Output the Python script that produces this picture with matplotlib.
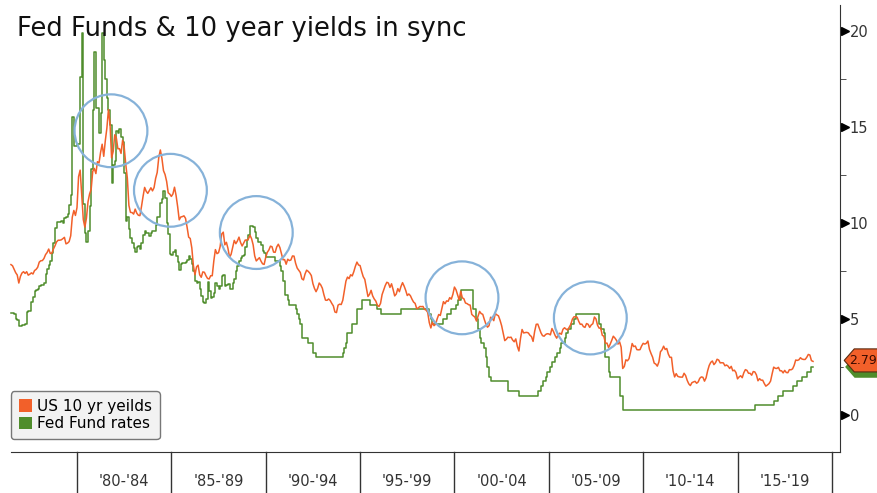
import matplotlib
matplotlib.use('Agg')
import matplotlib.pyplot as plt
import matplotlib.transforms as mtransforms
from matplotlib.patches import Patch, Polygon
from matplotlib.ticker import MultipleLocator
import numpy as np

# monthly values, first month = Jul 1976
start_year = 1976.5

ten_year = [
    7.83, 7.77, 7.59, 7.41, 7.29, 6.87,
    7.21, 7.39, 7.46, 7.37, 7.46, 7.28, 7.33, 7.40, 7.34, 7.52, 7.58, 7.69,
    7.96, 8.03, 8.04, 8.15, 8.35, 8.46, 8.64, 8.41, 8.42, 8.64, 8.81, 9.01,
    9.10, 9.10, 9.12, 9.18, 9.25, 8.91, 8.95, 9.03, 9.33, 10.30, 10.65, 10.39,
    10.80, 12.41, 12.75, 11.47, 10.18, 9.78, 10.25, 11.10, 11.51, 11.75, 12.68, 12.84,
    12.57, 13.19, 13.12, 13.68, 14.10, 13.47, 14.28, 14.94, 15.90, 15.15, 13.39, 13.72,
    14.59, 14.43, 13.86, 13.87, 13.62, 14.30, 13.95, 13.06, 12.34, 10.91, 10.55, 10.54,
    10.46, 10.72, 10.51, 10.40, 10.38, 10.85, 11.38, 11.85, 11.65, 11.54, 11.69, 11.83,
    11.67, 11.84, 12.32, 12.63, 13.41, 13.80, 13.36, 12.72, 12.52, 12.16, 11.57, 11.50,
    11.38, 11.51, 11.86, 11.43, 10.85, 10.16, 10.31, 10.33, 10.37, 10.24, 9.78, 9.26,
    9.19, 8.70, 7.78, 7.30, 7.71, 7.80, 7.30, 7.17, 7.45, 7.43, 7.25, 7.11,
    7.08, 7.25, 7.25, 8.02, 8.61, 8.40, 8.45, 8.76, 9.42, 9.52, 8.86, 8.99,
    8.67, 8.21, 8.37, 8.72, 9.09, 8.92, 9.06, 9.26, 8.98, 8.80, 8.96, 9.11,
    9.09, 9.17, 9.36, 9.18, 8.86, 8.28, 8.02, 8.11, 8.19, 8.01, 7.87, 7.84,
    8.21, 8.47, 8.59, 8.79, 8.76, 8.48, 8.47, 8.75, 8.89, 8.72, 8.39, 8.08,
    8.09, 7.85, 8.11, 8.04, 8.07, 8.28, 8.27, 7.90, 7.65, 7.53, 7.42, 7.09,
    7.03, 7.34, 7.54, 7.48, 7.39, 7.26, 6.84, 6.59, 6.42, 6.59, 6.87, 6.77,
    6.60, 6.26, 5.98, 5.97, 6.04, 5.96, 5.81, 5.68, 5.36, 5.33, 5.72, 5.77,
    5.75, 5.97, 6.48, 6.97, 7.18, 7.10, 7.30, 7.24, 7.46, 7.74, 7.96, 7.81,
    7.78, 7.47, 7.20, 7.06, 6.63, 6.17, 6.28, 6.49, 6.20, 6.04, 5.93, 5.71,
    5.65, 5.81, 6.27, 6.51, 6.74, 6.91, 6.87, 6.64, 6.83, 6.53, 6.20, 6.30,
    6.58, 6.42, 6.69, 6.89, 6.71, 6.49, 6.22, 6.30, 6.21, 6.03, 5.88, 5.81,
    5.54, 5.57, 5.65, 5.64, 5.65, 5.50, 5.46, 5.34, 4.81, 4.53, 4.83, 4.65,
    4.72, 5.00, 5.23, 5.18, 5.54, 5.90, 5.79, 5.94, 5.92, 6.11, 6.03, 6.28,
    6.66, 6.52, 6.26, 5.99, 6.44, 6.10, 6.05, 5.83, 5.80, 5.74, 5.72, 5.24,
    5.16, 5.10, 4.89, 5.14, 5.39, 5.28, 5.24, 4.97, 4.73, 4.57, 4.65, 5.09,
    5.04, 4.91, 5.28, 5.21, 5.16, 4.93, 4.65, 4.26, 3.87, 3.94, 4.05, 4.03,
    4.05, 3.90, 3.81, 3.96, 3.57, 3.33, 3.98, 4.45, 4.27, 4.29, 4.30, 4.27,
    4.15, 4.08, 3.83, 4.35, 4.72, 4.73, 4.50, 4.28, 4.13, 4.10, 4.19, 4.23,
    4.22, 4.17, 4.50, 4.34, 4.14, 4.00, 4.18, 4.26, 4.20, 4.46, 4.54, 4.47,
    4.42, 4.57, 4.72, 4.99, 5.11, 5.11, 5.09, 4.88, 4.72, 4.73, 4.60, 4.56,
    4.76, 4.72, 4.56, 4.69, 4.75, 5.10, 5.00, 4.67, 4.52, 4.53, 4.15, 4.10,
    3.74, 3.74, 3.51, 3.68, 3.88, 4.10, 4.01, 3.89, 3.69, 3.81, 3.53, 2.42,
    2.52, 2.87, 2.82, 2.93, 3.29, 3.72, 3.56, 3.59, 3.40, 3.39, 3.40, 3.59,
    3.73, 3.69, 3.73, 3.85, 3.42, 3.20, 3.01, 2.70, 2.65, 2.54, 2.76, 3.29,
    3.39, 3.58, 3.41, 3.46, 3.17, 3.00, 3.00, 2.30, 1.98, 2.15, 2.01, 1.98,
    1.97, 1.97, 2.17, 2.05, 1.80, 1.62, 1.53, 1.68, 1.72, 1.75, 1.65, 1.72,
    1.91, 1.98, 1.96, 1.76, 1.93, 2.30, 2.58, 2.74, 2.81, 2.62, 2.72, 2.90,
    2.86, 2.71, 2.72, 2.71, 2.56, 2.60, 2.54, 2.42, 2.53, 2.30, 2.33, 2.21,
    1.88, 1.98, 2.04, 1.94, 2.20, 2.36, 2.32, 2.17, 2.17, 2.07, 2.26, 2.24,
    2.09, 1.78, 1.89, 1.81, 1.81, 1.64, 1.50, 1.56, 1.63, 1.76, 2.14, 2.49,
    2.43, 2.42, 2.48, 2.30, 2.30, 2.19, 2.32, 2.21, 2.20, 2.36, 2.35, 2.40,
    2.58, 2.86, 2.84, 2.87, 2.98, 2.91, 2.89, 2.89, 3.00, 3.15, 3.12, 2.83,
    2.79,
]

fed_funds = [
    5.31, 5.29, 5.25, 5.02, 4.95, 4.65,
    4.61, 4.68, 4.69, 4.73, 5.35, 5.39, 5.42, 5.90, 6.14, 6.47, 6.51, 6.56,
    6.70, 6.78, 6.79, 6.89, 7.36, 7.60, 7.81, 8.04, 8.45, 8.96, 9.76, 10.03,
    10.07, 10.06, 10.09, 10.01, 10.24, 10.29, 10.47, 10.94, 11.43, 15.50, 14.00, 14.00,
    14.10, 14.10, 17.60, 19.90, 11.00, 9.50, 9.00, 9.60, 10.90, 12.80, 15.90, 18.90,
    16.00, 16.00, 14.70, 15.70, 19.90, 18.50, 17.50, 16.50, 15.90, 15.10, 12.10, 13.00,
    13.20, 14.80, 14.70, 14.90, 14.50, 14.20, 12.60, 10.10, 10.30, 9.70, 9.20, 8.95,
    8.68, 8.51, 8.77, 8.80, 8.63, 8.98, 9.37, 9.56, 9.45, 9.48, 9.34, 9.47,
    9.56, 9.59, 9.91, 10.29, 10.32, 11.06, 11.23, 11.64, 11.30, 9.99, 9.43, 8.38,
    8.35, 8.50, 8.58, 8.27, 7.97, 7.53, 7.88, 7.90, 7.92, 7.99, 8.05, 8.27,
    8.14, 7.86, 7.48, 6.99, 6.85, 6.92, 6.56, 6.17, 5.89, 5.85, 6.04, 6.91,
    6.43, 6.10, 6.13, 6.37, 6.85, 6.73, 6.58, 6.73, 7.22, 7.29, 6.69, 6.77,
    6.83, 6.58, 6.58, 6.87, 7.09, 7.51, 7.75, 8.01, 8.19, 8.30, 8.35, 8.76,
    9.12, 9.36, 9.85, 9.84, 9.81, 9.53, 9.24, 8.99, 9.02, 8.84, 8.55, 8.45,
    8.25, 8.25, 8.25, 8.25, 8.25, 8.25, 8.00, 8.00, 8.00, 7.75, 7.50, 7.00,
    6.25, 6.25, 6.00, 5.75, 5.75, 5.75, 5.75, 5.50, 5.25, 5.00, 4.75, 4.00,
    4.00, 4.00, 4.00, 3.75, 3.75, 3.75, 3.25, 3.25, 3.00, 3.00, 3.00, 3.00,
    3.00, 3.00, 3.00, 3.00, 3.00, 3.00, 3.00, 3.00, 3.00, 3.00, 3.00, 3.00,
    3.00, 3.25, 3.50, 3.75, 4.25, 4.25, 4.25, 4.75, 4.75, 4.75, 5.50, 5.50,
    5.50, 6.00, 6.00, 6.00, 6.00, 6.00, 5.75, 5.75, 5.75, 5.75, 5.75, 5.50,
    5.50, 5.25, 5.25, 5.25, 5.25, 5.25, 5.25, 5.25, 5.25, 5.25, 5.25, 5.25,
    5.25, 5.25, 5.50, 5.50, 5.50, 5.50, 5.50, 5.50, 5.50, 5.50, 5.50, 5.50,
    5.50, 5.50, 5.50, 5.50, 5.50, 5.50, 5.50, 5.50, 5.25, 5.00, 4.75, 4.75,
    4.75, 4.75, 4.75, 4.75, 4.75, 5.00, 5.00, 5.25, 5.25, 5.25, 5.50, 5.50,
    5.50, 5.75, 6.00, 6.00, 6.50, 6.50, 6.50, 6.50, 6.50, 6.50, 6.50, 6.50,
    5.50, 5.50, 5.00, 4.50, 4.00, 3.75, 3.75, 3.50, 3.00, 2.50, 2.00, 1.75,
    1.75, 1.75, 1.75, 1.75, 1.75, 1.75, 1.75, 1.75, 1.75, 1.75, 1.25, 1.25,
    1.25, 1.25, 1.25, 1.25, 1.25, 1.00, 1.00, 1.00, 1.00, 1.00, 1.00, 1.00,
    1.00, 1.00, 1.00, 1.00, 1.00, 1.25, 1.25, 1.50, 1.75, 1.75, 2.00, 2.25,
    2.25, 2.50, 2.75, 2.75, 3.00, 3.25, 3.25, 3.50, 3.75, 3.75, 4.00, 4.25,
    4.50, 4.50, 4.75, 4.75, 5.00, 5.25, 5.25, 5.25, 5.25, 5.25, 5.25, 5.25,
    5.25, 5.25, 5.25, 5.25, 5.25, 5.25, 5.25, 5.25, 4.75, 4.50, 4.50, 4.25,
    3.00, 3.00, 2.25, 2.00, 2.00, 2.00, 2.00, 2.00, 2.00, 1.00, 1.00, 0.25,
    0.25, 0.25, 0.25, 0.25, 0.25, 0.25, 0.25, 0.25, 0.25, 0.25, 0.25, 0.25,
    0.25, 0.25, 0.25, 0.25, 0.25, 0.25, 0.25, 0.25, 0.25, 0.25, 0.25, 0.25,
    0.25, 0.25, 0.25, 0.25, 0.25, 0.25, 0.25, 0.25, 0.25, 0.25, 0.25, 0.25,
    0.25, 0.25, 0.25, 0.25, 0.25, 0.25, 0.25, 0.25, 0.25, 0.25, 0.25, 0.25,
    0.25, 0.25, 0.25, 0.25, 0.25, 0.25, 0.25, 0.25, 0.25, 0.25, 0.25, 0.25,
    0.25, 0.25, 0.25, 0.25, 0.25, 0.25, 0.25, 0.25, 0.25, 0.25, 0.25, 0.25,
    0.25, 0.25, 0.25, 0.25, 0.25, 0.25, 0.25, 0.25, 0.25, 0.25, 0.25, 0.50,
    0.50, 0.50, 0.50, 0.50, 0.50, 0.50, 0.50, 0.50, 0.50, 0.50, 0.50, 0.75,
    0.75, 0.75, 1.00, 1.00, 1.00, 1.25, 1.25, 1.25, 1.25, 1.25, 1.25, 1.50,
    1.50, 1.50, 1.75, 1.75, 1.75, 2.00, 2.00, 2.00, 2.25, 2.25, 2.25, 2.50,
    2.50,
]

period_labels = ["'80-'84", "'85-'89", "'90-'94", "'95-'99",
                 "'00-'04", "'05-'09", "'10-'14", "'15-'19"]
period_starts = [1980, 1985, 1990, 1995, 2000, 2005, 2010, 2015, 2020]

# circled "in sync" episodes (year, level)
sync_x = [1981.8, 1984.95, 1989.5, 2000.4, 2007.2]
sync_y = [14.8, 11.7, 9.5, 6.1, 5.05]

last_label = "2.79"

orange = '#f2602a'
green = '#4f8d2c'

months = start_year + np.arange(len(ten_year)) / 12.0

fig = plt.figure(figsize=(8.77, 4.93), dpi=100)
ax = fig.add_axes([0, 41 / 493, 840 / 877, 447 / 493])

ax.plot(months, fed_funds, color=green, lw=1.1, drawstyle='steps-post', zorder=2)
ax.plot(months, ten_year, color=orange, lw=1.1, zorder=3)

ax.scatter(sync_x, sync_y, s=2750, facecolors='none', edgecolors='#86b2d9',
           linewidths=1.6, zorder=4)

ax.set_xlim(1975.92, 2020.43)
ax.set_ylim(-1.93, 21.35)

for side in ['left', 'top']:
    ax.spines[side].set_visible(False)
ax.spines['bottom'].set_bounds(start_year, 2020.43)
ax.spines['right'].set_color('#333333')
ax.spines['bottom'].set_color('#333333')

ax.set_xticks([])
ax.yaxis.tick_right()
ax.set_yticks([0, 5, 10, 15, 20])
ax.yaxis.set_minor_locator(MultipleLocator(2.5))
ax.tick_params(axis='y', which='major', length=0, pad=7, labelsize=10.5,
               labelcolor='#333333')
ax.tick_params(axis='y', which='minor', length=4, direction='out', color='#333333')

trans = mtransforms.blended_transform_factory(ax.transAxes, ax.transData)
ax.plot([1.0055] * 5, [0, 5, 10, 15, 20], marker='>', ms=6, color='black',
        ls='none', transform=trans, clip_on=False)

# period strip under the chart
strip = mtransforms.blended_transform_factory(ax.transData, ax.transAxes)
for yr in period_starts:
    ax.plot([yr, yr], [0, -0.1], color='#333333', lw=1, transform=strip,
            clip_on=False)
for yr, lab in zip(period_starts[:-1], period_labels):
    ax.text(yr + 2.5, -0.067, lab, transform=strip, ha='center', va='center',
            fontsize=10.5, color='#333333')

# last value tags
c_g, c_o, h = 2.5, 2.84, 0.6
ax.add_patch(Polygon([(1.005, c_g), (1.017, c_g + h), (1.1, c_g + h),
                      (1.1, c_g - h), (1.017, c_g - h)], closed=True,
                     transform=trans, clip_on=False, facecolor=green,
                     edgecolor='white', lw=1, zorder=5))
ax.add_patch(Polygon([(1.005, c_o), (1.017, c_o + h), (1.1, c_o + h),
                      (1.1, c_o - h), (1.017, c_o - h)], closed=True,
                     transform=trans, clip_on=False, facecolor=orange,
                     edgecolor='#5a2a10', lw=0.8, zorder=6))
ax.text(1.0105, c_o, last_label, transform=trans, ha='left', va='center',
        fontsize=9, color='#3a0a00', zorder=7, clip_on=False)

handles = [Patch(facecolor=orange, edgecolor='none', label='US 10 yr yeilds'),
           Patch(facecolor=green, edgecolor='none', label='Fed Fund rates')]
leg = ax.legend(handles=handles, loc='lower left', bbox_to_anchor=(0.013, 0.029),
                borderaxespad=0, fontsize=11, handlelength=0.9, handleheight=0.9,
                handletextpad=0.3, labelspacing=0.15, borderpad=0.5,
                fancybox=True, framealpha=1, facecolor='#f2f2f2',
                edgecolor='#777777')

fig.text(17 / 877, 1 - 36 / 493, 'Fed Funds & 10 year yields in sync',
         fontsize=18.6, color='#111111', va='baseline', ha='left')

fig.savefig('out.png', dpi=100)
